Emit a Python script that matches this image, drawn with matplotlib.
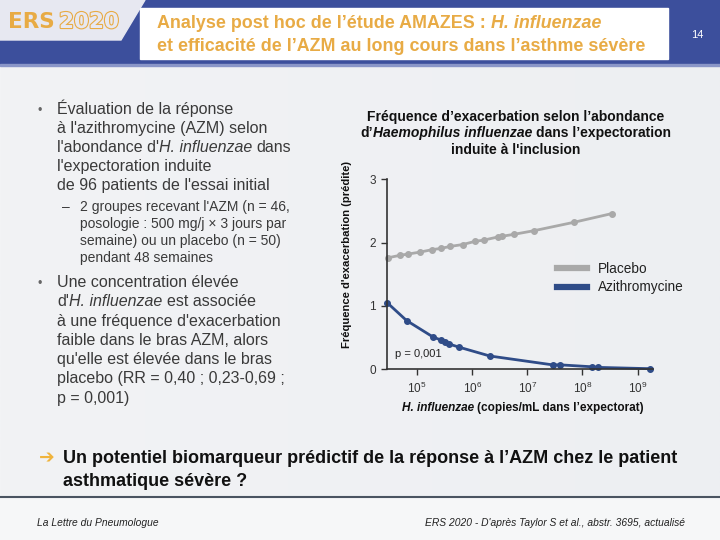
import numpy as np
import matplotlib.pyplot as plt
from matplotlib.patches import Rectangle, Polygon
from matplotlib.lines import Line2D
from matplotlib.colors import LinearSegmentedColormap
import matplotlib.patheffects as pe

# valeurs : log10(copies/mL) et frequence predite
placebo_logx = [4.47, 4.69, 4.84, 5.05, 5.28, 5.44, 5.60, 5.83, 6.05, 6.21,
                6.47, 6.54, 6.75, 7.13, 7.84, 8.54]
placebo_y = [1.76, 1.80, 1.82, 1.85, 1.89, 1.91, 1.94, 1.97, 2.02, 2.04,
             2.09, 2.10, 2.13, 2.19, 2.32, 2.46]
azm_logx = [4.46, 4.81, 5.29, 5.44, 5.50, 5.58, 5.76, 6.32, 7.46, 7.60,
            8.17, 8.29, 9.22]
azm_y = [1.05, 0.77, 0.51, 0.46, 0.43, 0.40, 0.35, 0.21, 0.07, 0.07,
         0.04, 0.03, 0.01]
x_ticks = [1e5, 1e6, 1e7, 1e8, 1e9]
x_tick_labels = [r"$\mathregular{10^{5}}$", r"$\mathregular{10^{6}}$",
                 r"$\mathregular{10^{7}}$", r"$\mathregular{10^{8}}$",
                 r"$\mathregular{10^{9}}$"]
y_ticks = [0, 1, 2, 3]

GOLD = "#e8ab45"
BLUE = "#3c4f9c"
TXT = "#3a3a3a"
C_PLA = "#a9a9a9"
C_AZM = "#2f4c88"
SANS = ["Liberation Sans", "DejaVu Sans"]

plt.rcParams["font.family"] = SANS

fig = plt.figure(figsize=(7.2, 5.4), dpi=100)
bg = fig.add_axes([0, 0, 1, 1])
bg.set_xlim(0, 720)
bg.set_ylim(540, 0)
bg.axis("off")
renderer = fig.canvas.get_renderer()

# fond
grad = np.linspace(0, 1, 256).reshape(1, -1)
bg.imshow(grad, extent=(0, 720, 497, 66),
          cmap=LinearSegmentedColormap.from_list("bgc", ["#f2f3f5", "#edeff2"]),
          aspect="auto", zorder=0)
bg.add_patch(Rectangle((0, 497), 720, 43, color="#f6f7f8", zorder=0))

# bandeau
bg.add_patch(Rectangle((0, 0), 720, 65, color=BLUE, zorder=1))
bg.add_patch(Rectangle((0, 64), 720, 2, color="#8a96c8", zorder=1))
bg.add_patch(Polygon([(0, 0), (145, 0), (121, 40), (0, 40)], closed=True,
                     color="#e7e8f1", zorder=2))
bg.add_patch(Rectangle((140, 8), 528, 51, color="white", zorder=2))
bg.text(8, 28, "ERS", color=GOLD, fontsize=15.5, fontweight="bold",
        family="DejaVu Sans", zorder=3)
bg.text(59, 28, "2020", color="#e7e8f1", fontsize=15.5, fontweight="bold",
        family="DejaVu Sans", zorder=3,
        path_effects=[pe.withStroke(linewidth=1.6, foreground=GOLD)])
bg.text(697, 35, "14", color="white", fontsize=8, ha="center", va="center",
        zorder=3)


def text_width(s, **kw):
    t1 = bg.text(0, 0, "|" + s + "|", **kw)
    t2 = bg.text(0, 0, "||", **kw)
    w = t1.get_window_extent(renderer).width - t2.get_window_extent(renderer).width
    t1.remove()
    t2.remove()
    return w


def draw_runs(x, y, runs, align="left", **common):
    widths = [text_width(s, **common, **st) for s, st in runs]
    if align == "center":
        x = x - sum(widths) / 2
    for (s, st), w in zip(runs, widths):
        lead = len(s) - len(s.lstrip(" "))
        dx = text_width(" " * lead, **common, **st) if lead else 0
        bg.text(x + dx, y, s.strip(), va="baseline", ha="left", zorder=4,
                **common, **st)
        x += w


R = {}
I = {"style": "italic"}
B = {"fontweight": "bold"}
BI = {"fontweight": "bold", "style": "italic"}

# titre
head = dict(fontsize=12.9, color=GOLD)
draw_runs(157, 28, [("Analyse post hoc de l’étude AMAZES : ", B),
                    ("H. influenzae", BI)], **head)
draw_runs(157, 51, [("et efficacité de l’AZM au long cours dans l’asthme sévère", B)], **head)

# texte de gauche
body = dict(fontsize=11.5, color=TXT)
bullet1 = [
    [("Évaluation de la réponse", R)],
    [("à l'azithromycine (AZM) selon", R)],
    [("l'abondance d'", R), ("H. influenzae", I), (" dans", R)],
    [("l'expectoration induite", R)],
    [("de 96 patients de l'essai initial", R)],
]
for i, line in enumerate(bullet1):
    draw_runs(57, 114 + 19 * i, line, **body)
bg.text(37, 114, "•", fontsize=9, color="#666666", va="baseline")

sub = ["2 groupes recevant l'AZM (n = 46,",
       "posologie : 500 mg/j × 3 jours par",
       "semaine) ou un placebo (n = 50)",
       "pendant 48 semaines"]
for i, s in enumerate(sub):
    draw_runs(80, 211 + 17 * i, [(s, R)], fontsize=10, color=TXT)
bg.text(62, 211, "–", fontsize=10, color=TXT, va="baseline")

bullet2 = [
    [("Une concentration élevée", R)],
    [("d'", R), ("H. influenzae", I), (" est associée", R)],
    [("à une fréquence d'exacerbation", R)],
    [("faible dans le bras AZM, alors", R)],
    [("qu'elle est élevée dans le bras", R)],
    [("placebo (RR = 0,40 ; 0,23-0,69 ;", R)],
    [("p = 0,001)", R)],
]
for i, line in enumerate(bullet2):
    draw_runs(57, 287 + 19.3 * i, line, **body)
bg.text(37, 287, "•", fontsize=9, color="#666666", va="baseline")

# conclusion
bg.text(39, 463, "➔", fontsize=13.5, color="#f0b43c", family="DejaVu Sans",
        va="baseline", fontweight="bold")
draw_runs(63, 463, [("Un potentiel biomarqueur prédictif de la réponse à l’AZM chez le patient", B)],
          fontsize=13, color="#111111")
draw_runs(63, 486, [("asthmatique sévère ?", B)], fontsize=13, color="#111111")

# pied de page
bg.plot([0, 720], [497, 497], color="#4a5461", lw=1.5, zorder=3)
bg.text(37, 526, "La Lettre du Pneumologue", fontsize=7.4, style="italic",
        color="#222222", va="baseline")
bg.text(685, 526, "ERS 2020 - D'après Taylor S et al., abstr. 3695, actualisé",
        fontsize=7.4, style="italic", color="#222222", va="baseline", ha="right")

# titre du graphique
ct = dict(fontsize=10, color="#111111")
draw_runs(516, 121, [("Fréquence d’exacerbation selon l’abondance", B)], align="center", **ct)
draw_runs(516, 137, [("d’", B), ("Haemophilus influenzae", BI),
                     (" dans l’expectoration", B)], align="center", **ct)
draw_runs(516, 154, [("induite à l'inclusion", B)], align="center", **ct)
draw_runs(523, 411, [("H. influenzae", BI), (" (copies/mL dans l’expectorat)", B)],
          align="center", fontsize=8.5, color="#111111")
bg.text(347, 255, "Fréquence d'exacerbation (prédite)", rotation=90,
        fontsize=8.1, fontweight="bold", color="#111111", ha="center", va="center")

# graphique
ax = fig.add_axes([387 / 720, (540 - 369.3) / 540, 266 / 720, 190 / 540])
ax.set_facecolor("none")
ax.plot(10 ** np.array(placebo_logx), placebo_y, color=C_PLA, lw=2,
        marker="o", ms=4, clip_on=False)
ax.plot(10 ** np.array(azm_logx), azm_y, color=C_AZM, lw=2,
        marker="o", ms=4, clip_on=False)
ax.set_xscale("log")
ax.set_xlim(10 ** 4.455, 10 ** 9.28)
ax.set_ylim(0, 3)
ax.set_xticks(x_ticks)
ax.set_xticklabels(x_tick_labels)
ax.xaxis.set_minor_locator(plt.NullLocator())
ax.set_yticks(y_ticks)
for s in ["top", "right"]:
    ax.spines[s].set_visible(False)
for s in ["left", "bottom"]:
    ax.spines[s].set_color("#333333")
    ax.spines[s].set_linewidth(1.2)
ax.tick_params(colors="#333333", labelsize=8.5, length=4, width=1, pad=4)
ax.text(10 ** 4.6, 0.2, "p = 0,001", fontsize=8, color="#222222")

handles = [Line2D([], [], color=C_PLA, lw=4.5), Line2D([], [], color=C_AZM, lw=4.5)]
ax.legend(handles, ["Placebo", "Azithromycine"], frameon=False, fontsize=9.8,
          loc="center left", bbox_to_anchor=(0.64, 0.48), handlelength=2.2,
          handletextpad=0.8, labelspacing=0.35, borderpad=0, borderaxespad=0,
          labelcolor="#222222")

fig.savefig("out.png", dpi=100)
